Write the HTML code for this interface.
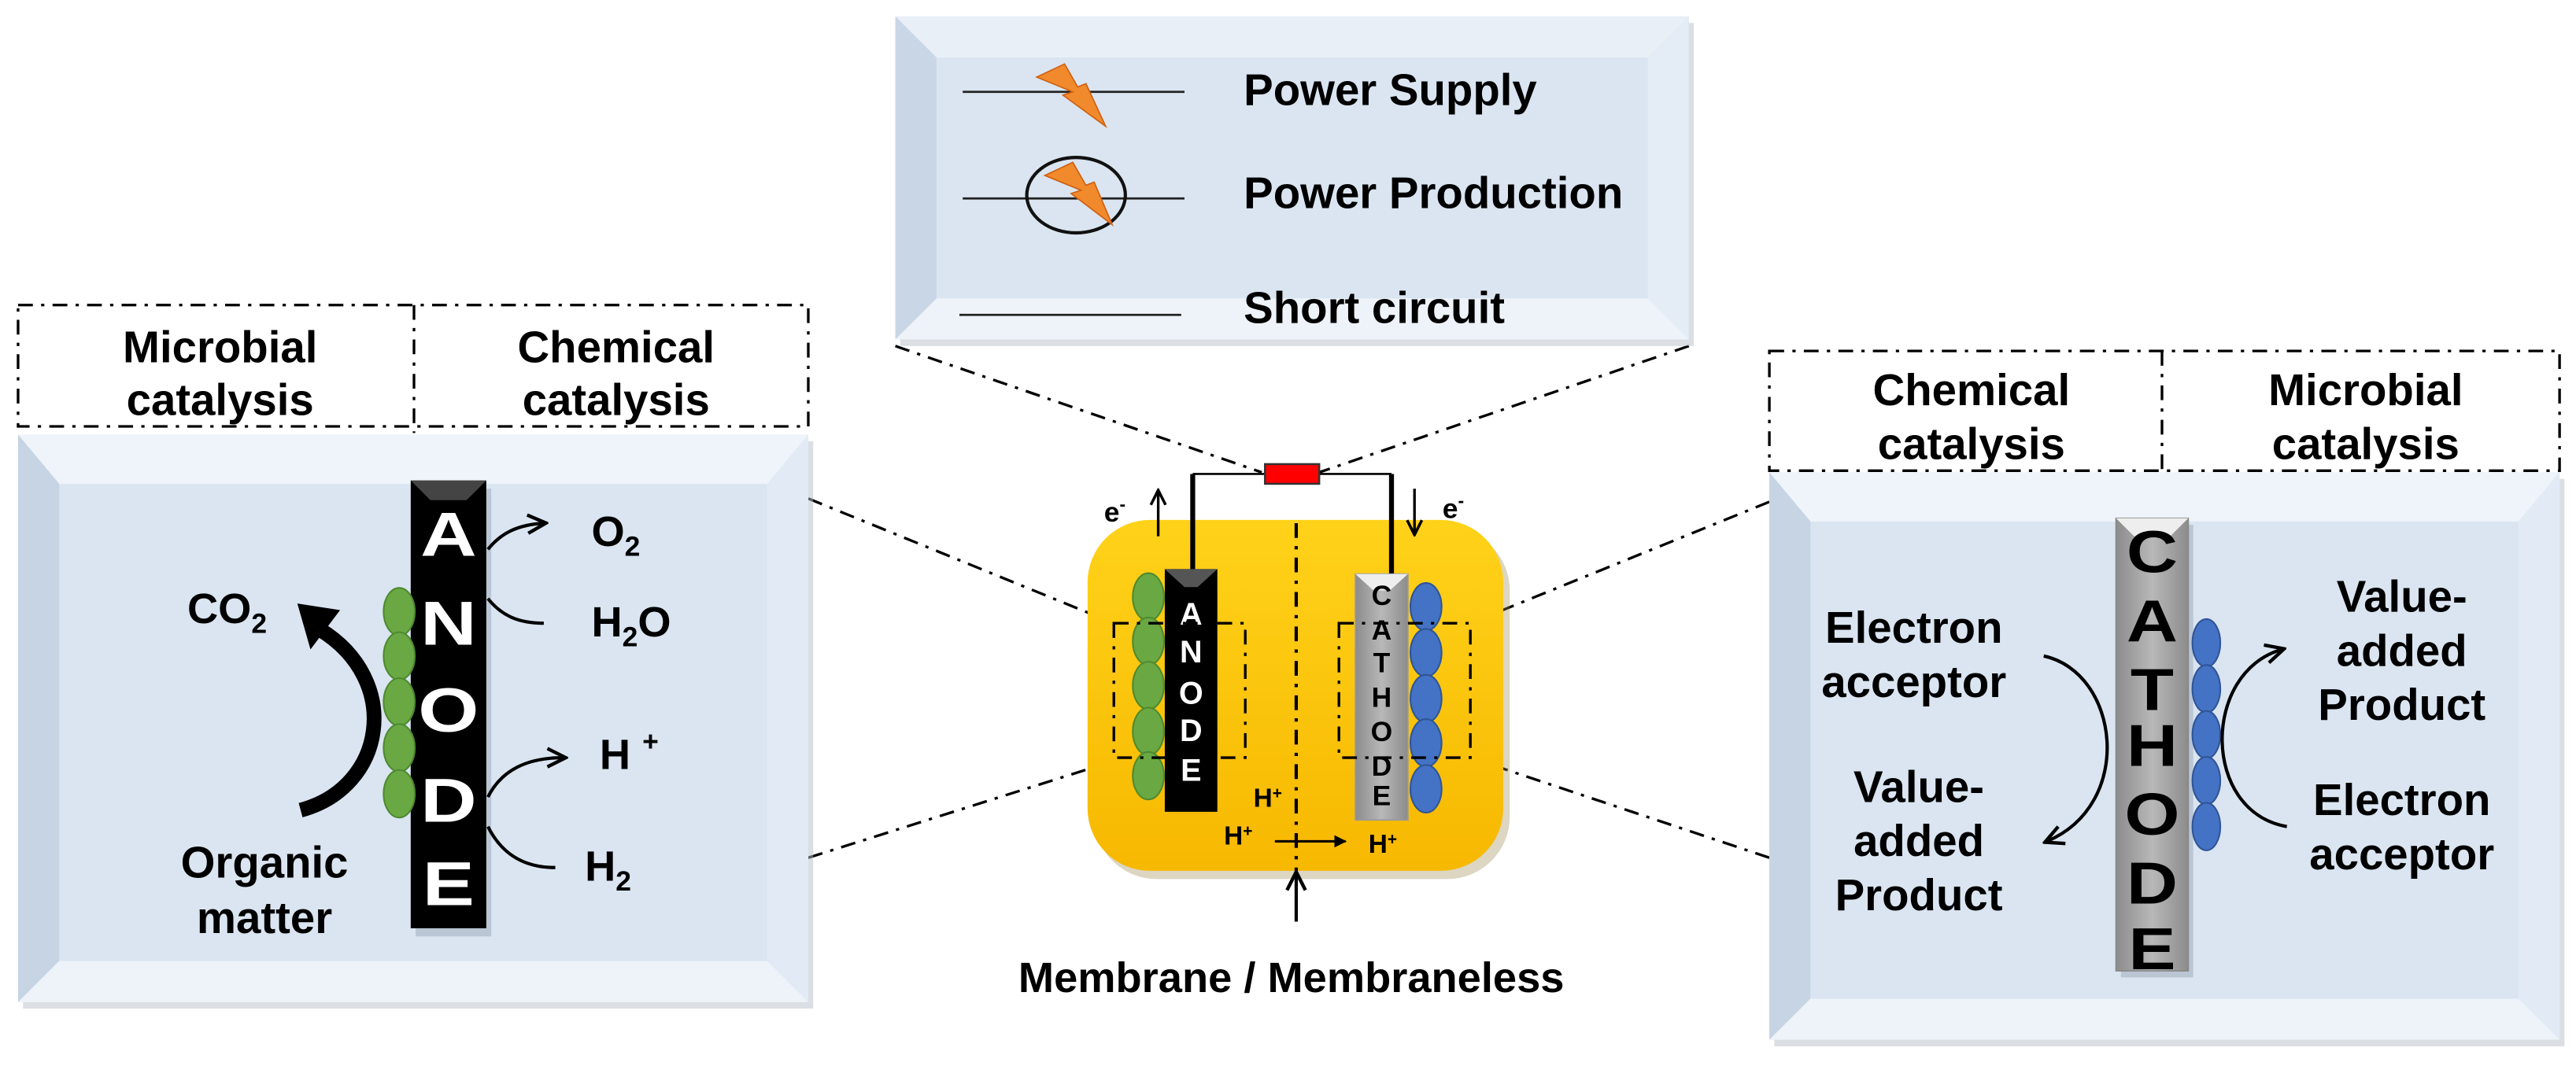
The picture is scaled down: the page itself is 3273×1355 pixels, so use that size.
<!DOCTYPE html>
<html><head><meta charset="utf-8"><style>
html,body{margin:0;padding:0;background:#fff;width:3273px;height:1355px;overflow:hidden}
svg{display:block}
text{font-family:"Liberation Sans",Arial,sans-serif;font-weight:bold;fill:#000}
.w{fill:#fff}
</style></head><body>
<svg width="3273" height="1355" viewBox="0 0 1568 650" preserveAspectRatio="none" xmlns="http://www.w3.org/2000/svg">
<defs>
<linearGradient id="yel" x1="0" y1="0" x2="0" y2="1"><stop offset="0" stop-color="#ffd21a"/><stop offset="1" stop-color="#f7b800"/></linearGradient>
<linearGradient id="gray" x1="0" y1="0" x2="1" y2="0"><stop offset="0" stop-color="#8c8c8c"/><stop offset="0.5" stop-color="#b8b8b8"/><stop offset="1" stop-color="#8c8c8c"/></linearGradient>
<marker id="ah" viewBox="0 0 10 10" refX="8" refY="5" markerWidth="7" markerHeight="7" orient="auto"><path d="M1,1 L9,5 L1,9" fill="none" stroke="#000" stroke-width="1.5"/></marker>
<marker id="tri" viewBox="0 0 10 10" refX="9" refY="5" markerWidth="5" markerHeight="5" orient="auto"><path d="M0,0 L10,5 L0,10z" fill="#000"/></marker>
</defs>

<!-- connector dash-dot lines -->
<g stroke="#000" stroke-width="1.6" stroke-dasharray="9,5,2,5" fill="none">
<line x1="545" y1="211" x2="768" y2="288"/>
<line x1="1028" y1="211" x2="803" y2="288"/>
<line x1="492" y1="304" x2="678" y2="380"/>
<line x1="492" y1="523" x2="678" y2="464"/>
<line x1="1077" y1="306" x2="895" y2="380"/>
<line x1="1077" y1="523" x2="895" y2="462"/>
</g>

<!-- top legend panel -->
<g>
<rect x="548" y="14" width="483" height="197" fill="#b8bfc8" opacity="0.5"/>
<rect x="545" y="10" width="483" height="197" fill="#dae5f1"/>
<polygon points="545,10 1028,10 1003,35 570,35" fill="#e8eff7"/>
<polygon points="545,10 570,35 570,182 545,207" fill="#c9d6e5"/>
<polygon points="1028,10 1003,35 1003,182 1028,207" fill="#e4ecf5"/>
<polygon points="545,207 570,182 1003,182 1028,207" fill="#eef3f9"/>
<line x1="586" y1="56" x2="721" y2="56" stroke="#222" stroke-width="1.3"/>
<polygon points="631,47 648,39 656,53 661,51 673,77 647,58 653,56" fill="#f08a2c" stroke="#d06010" stroke-width="0.8"/>
<line x1="586" y1="121" x2="721" y2="121" stroke="#222" stroke-width="1.3"/>
<ellipse cx="655" cy="119" rx="30" ry="23" fill="none" stroke="#111" stroke-width="2"/>
<polygon points="636,107 653,99 661,113 666,111 677,137 652,118 658,116" fill="#f08a2c" stroke="#d06010" stroke-width="0.8"/>
<line x1="584" y1="192" x2="719" y2="192" stroke="#222" stroke-width="1.3"/>
<text x="757" y="64" font-size="27">Power Supply</text>
<text x="757" y="127" font-size="27">Power Production</text>
<text x="757" y="197" font-size="27">Short circuit</text>
</g>

<!-- left panel -->
<g>
<rect x="11" y="186" width="481" height="74" fill="none" stroke="#000" stroke-width="1.6" stroke-dasharray="9,5,2,5"/>
<line x1="252" y1="186" x2="252" y2="264" stroke="#000" stroke-width="1.6" stroke-dasharray="9,5,2,5"/>
<text x="134" y="221" font-size="27" text-anchor="middle">Microbial</text>
<text x="134" y="253" font-size="27" text-anchor="middle">catalysis</text>
<text x="375" y="221" font-size="27" text-anchor="middle">Chemical</text>
<text x="375" y="253" font-size="27" text-anchor="middle">catalysis</text>
<rect x="14" y="269" width="481" height="346" fill="#b8bfc8" opacity="0.5"/>
<rect x="11" y="265" width="481" height="346" fill="#dae5f1"/>
<polygon points="11,265 492,265 467,295 36,295" fill="#eef4fa"/>
<polygon points="11,265 36,295 36,586 11,611" fill="#c6d4e4"/>
<polygon points="492,265 467,295 467,586 492,611" fill="#e2ebf5"/>
<polygon points="11,611 36,586 467,586 492,611" fill="#edf3f9"/>
<rect x="253" y="298" width="46" height="273" fill="#9aa8b8" opacity="0.5"/>
<rect x="250" y="293" width="46" height="273" fill="#000"/>
<polygon points="250,293 296,293 284,305 262,305" fill="#444"/>
<g font-size="38" text-anchor="middle">
<text class="w" transform="translate(273,339) scale(1.25,1)">A</text>
<text class="w" transform="translate(273,393) scale(1.25,1)">N</text>
<text class="w" transform="translate(273,446) scale(1.25,1)">O</text>
<text class="w" transform="translate(273,501) scale(1.25,1)">D</text>
<text class="w" transform="translate(273,552) scale(1.25,1)">E</text>
</g>
<g fill="#6aa843" stroke="#4e8a30" stroke-width="1">
<ellipse cx="243" cy="373" rx="9.5" ry="14.5"/><ellipse cx="243" cy="400" rx="9.5" ry="14.5"/><ellipse cx="243" cy="428" rx="9.5" ry="14.5"/><ellipse cx="243" cy="456" rx="9.5" ry="14.5"/><ellipse cx="243" cy="484" rx="9.5" ry="14.5"/>
</g>
<path d="M183,494 C235,480 245,415 195,384" fill="none" stroke="#000" stroke-width="9"/>
<polygon points="181,368 207,372 189,396" fill="#000"/>
<text x="114" y="380" font-size="26">CO<tspan font-size="17" dy="6">2</tspan></text>
<text x="161" y="535" font-size="27" text-anchor="middle">Organic</text>
<text x="161" y="569" font-size="27" text-anchor="middle">matter</text>
<path d="M297,335 C305,325 315,320 331,319" fill="none" stroke="#000" stroke-width="2" marker-end="url(#ah)"/>
<path d="M297,365 C305,375 315,380 331,380" fill="none" stroke="#000" stroke-width="2"/>
<path d="M297,486 C305,470 320,462 343,462" fill="none" stroke="#000" stroke-width="2" marker-end="url(#ah)"/>
<path d="M297,504 C305,520 318,529 338,529" fill="none" stroke="#000" stroke-width="2"/>
<text x="360" y="333" font-size="26">O<tspan font-size="17" dy="6">2</tspan></text>
<text x="360" y="388" font-size="26">H<tspan font-size="17" dy="6">2</tspan><tspan dy="-6">O</tspan></text>
<text x="365" y="469" font-size="26">H <tspan font-size="17" dy="-11">+</tspan></text>
<text x="356" y="537" font-size="26">H<tspan font-size="17" dy="6">2</tspan></text>
</g>

<!-- right panel -->
<g>
<rect x="1077" y="214" width="481" height="73" fill="none" stroke="#000" stroke-width="1.6" stroke-dasharray="9,5,2,5"/>
<line x1="1316" y1="214" x2="1316" y2="290" stroke="#000" stroke-width="1.6" stroke-dasharray="9,5,2,5"/>
<text x="1200" y="247" font-size="27" text-anchor="middle">Chemical</text>
<text x="1200" y="280" font-size="27" text-anchor="middle">catalysis</text>
<text x="1440" y="247" font-size="27" text-anchor="middle">Microbial</text>
<text x="1440" y="280" font-size="27" text-anchor="middle">catalysis</text>
<rect x="1080" y="292" width="481" height="346" fill="#b8bfc8" opacity="0.5"/>
<rect x="1077" y="288" width="481" height="346" fill="#dae5f1"/>
<polygon points="1077,288 1558,288 1533,318 1102,318" fill="#eef4fa"/>
<polygon points="1077,288 1102,318 1102,609 1077,634" fill="#c6d4e4"/>
<polygon points="1558,288 1533,318 1533,609 1558,634" fill="#e2ebf5"/>
<polygon points="1077,634 1102,609 1533,609 1558,634" fill="#edf3f9"/>
<rect x="1291" y="320" width="44" height="276" fill="#9aa8b8" opacity="0.5"/>
<rect x="1288" y="316" width="44" height="276" fill="url(#gray)" stroke="#888" stroke-width="0.8"/>
<polygon points="1288,316 1332,316 1321,327 1299,327" fill="#eee"/>
<g font-size="36" text-anchor="middle">
<text transform="translate(1310,349) scale(1.2,1)">C</text>
<text transform="translate(1310,391) scale(1.2,1)">A</text>
<text transform="translate(1310,433) scale(1.2,1)">T</text>
<text transform="translate(1310,467) scale(1.2,1)">H</text>
<text transform="translate(1310,509) scale(1.2,1)">O</text>
<text transform="translate(1310,551) scale(1.2,1)">D</text>
<text transform="translate(1310,591) scale(1.2,1)">E</text>
</g>
<g fill="#4472c4" stroke="#2f5597" stroke-width="1">
<ellipse cx="1343" cy="392" rx="8.5" ry="14.5"/><ellipse cx="1343" cy="420" rx="8.5" ry="14.5"/><ellipse cx="1343" cy="448" rx="8.5" ry="14.5"/><ellipse cx="1343" cy="476" rx="8.5" ry="14.5"/><ellipse cx="1343" cy="504" rx="8.5" ry="14.5"/>
</g>
<path d="M1244,400 C1290,410 1300,490 1246,513" fill="none" stroke="#000" stroke-width="2" marker-end="url(#ah)"/>
<path d="M1392,504 C1340,495 1340,410 1389,396" fill="none" stroke="#000" stroke-width="2" marker-end="url(#ah)"/>
<text x="1165" y="392" font-size="27" text-anchor="middle">Electron</text>
<text x="1165" y="425" font-size="27" text-anchor="middle">acceptor</text>
<text x="1168" y="489" font-size="27" text-anchor="middle">Value-</text>
<text x="1168" y="522" font-size="27" text-anchor="middle">added</text>
<text x="1168" y="555" font-size="27" text-anchor="middle">Product</text>
<text x="1462" y="373" font-size="27" text-anchor="middle">Value-</text>
<text x="1462" y="406" font-size="27" text-anchor="middle">added</text>
<text x="1462" y="439" font-size="27" text-anchor="middle">Product</text>
<text x="1462" y="497" font-size="27" text-anchor="middle">Electron</text>
<text x="1462" y="530" font-size="27" text-anchor="middle">acceptor</text>
</g>

<!-- center cell -->
<g>
<rect x="666" y="322" width="253" height="214" rx="38" fill="#9a8a50" opacity="0.35"/>
<rect x="662" y="317" width="253" height="214" rx="38" fill="url(#yel)"/>
<polyline points="726,289 770,289" fill="none" stroke="#000" stroke-width="1.3"/>
<polyline points="803,289 847,289" fill="none" stroke="#000" stroke-width="1.3"/>
<line x1="726" y1="289" x2="726" y2="348" stroke="#000" stroke-width="3"/>
<line x1="847" y1="289" x2="847" y2="350" stroke="#000" stroke-width="3"/>
<rect x="770" y="283" width="33" height="12" fill="#ff0000" stroke="#333" stroke-width="1.2"/>
<line x1="789" y1="319" x2="789" y2="531" stroke="#000" stroke-width="2" stroke-dasharray="9,5,2,5"/>
<rect x="709" y="347" width="32" height="148" fill="#000"/>
<polygon points="709,347 741,347 729,358 721,358" fill="#555"/>
<g font-size="19" text-anchor="middle">
<text class="w" x="725" y="381">A</text><text class="w" x="725" y="404">N</text><text class="w" x="725" y="429">O</text><text class="w" x="725" y="452">D</text><text class="w" x="725" y="476">E</text>
</g>
<g fill="#6aa843" stroke="#4e8a30" stroke-width="1">
<ellipse cx="699" cy="364" rx="9.5" ry="14.5"/><ellipse cx="699" cy="391" rx="9.5" ry="14.5"/><ellipse cx="699" cy="418" rx="9.5" ry="14.5"/><ellipse cx="699" cy="446" rx="9.5" ry="14.5"/><ellipse cx="699" cy="473" rx="9.5" ry="14.5"/>
</g>
<rect x="825" y="350" width="32" height="150" fill="url(#gray)" stroke="#999" stroke-width="0.8"/>
<polygon points="825,350 857,350 846,360 836,360" fill="#eee"/>
<g font-size="17" text-anchor="middle">
<text x="841" y="369">C</text><text x="841" y="390">A</text><text x="841" y="410">T</text><text x="841" y="431">H</text><text x="841" y="452">O</text><text x="841" y="473">D</text><text x="841" y="491">E</text>
</g>
<g fill="#4472c4" stroke="#2f5597" stroke-width="1">
<ellipse cx="868" cy="370" rx="9.5" ry="14.5"/><ellipse cx="868" cy="398" rx="9.5" ry="14.5"/><ellipse cx="868" cy="426" rx="9.5" ry="14.5"/><ellipse cx="868" cy="453" rx="9.5" ry="14.5"/><ellipse cx="868" cy="481" rx="9.5" ry="14.5"/>
</g>
<g stroke="#000" stroke-width="1.6" stroke-dasharray="9,5,2,5" fill="none">
<rect x="678" y="380" width="80" height="82"/>
<rect x="815" y="380" width="80" height="82"/>
</g>
<line x1="705" y1="327" x2="705" y2="300" stroke="#000" stroke-width="1.6" marker-end="url(#ah)"/>
<text x="672" y="318" font-size="17">e<tspan font-size="11" dy="-7">-</tspan></text>
<line x1="861" y1="298" x2="861" y2="325" stroke="#000" stroke-width="1.6" marker-end="url(#ah)"/>
<text x="878" y="316" font-size="17">e<tspan font-size="11" dy="-7">-</tspan></text>
<text x="763" y="492" font-size="16">H<tspan font-size="10" dy="-5">+</tspan></text>
<text x="745" y="515" font-size="16">H<tspan font-size="10" dy="-5">+</tspan></text>
<line x1="776" y1="513" x2="819" y2="513" stroke="#000" stroke-width="1.5" marker-end="url(#tri)"/>
<text x="833" y="520" font-size="16">H<tspan font-size="10" dy="-5">+</tspan></text>
<line x1="789" y1="562" x2="789" y2="533" stroke="#000" stroke-width="2" marker-end="url(#ah)"/>
<text x="786" y="605" font-size="26" text-anchor="middle">Membrane / Membraneless</text>
</g>
</svg>
</body></html>
